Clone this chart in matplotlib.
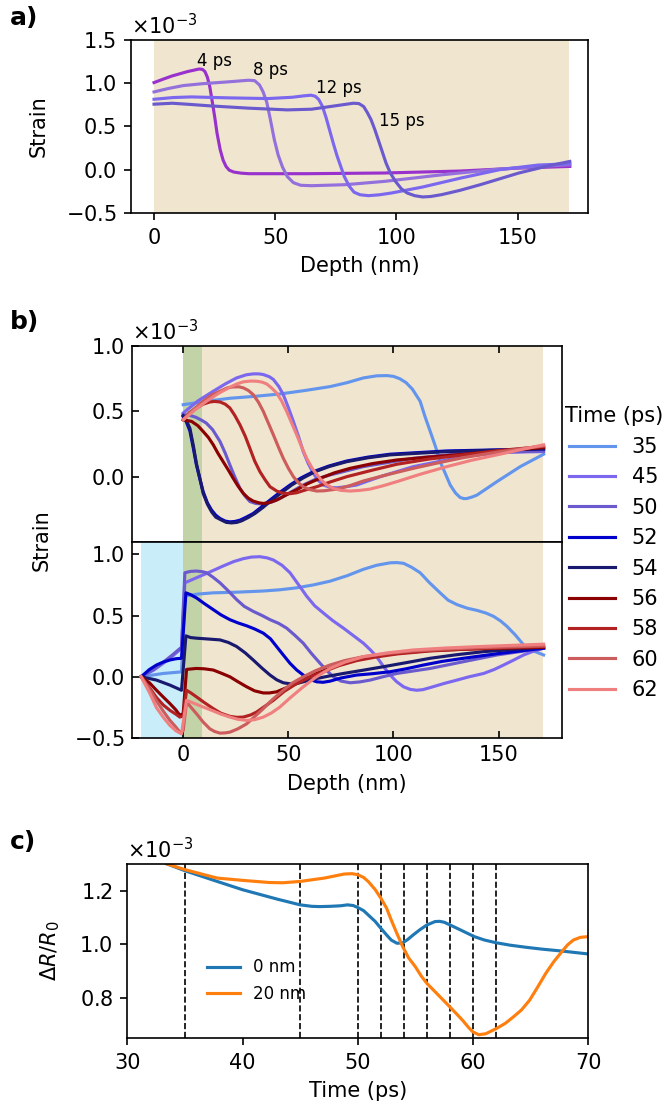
import matplotlib.pyplot as plt
import numpy as np

# ---------------- panel a: strain profiles at early times (units 1e-3)
a_labels = ['4 ps', '8 ps', '12 ps', '15 ps']
a_colors = ['#9932CC', '#9370DB', '#7B68EE', '#6A5ACD']
a_x = [
    [0, 4, 7.5, 13.8, 18.6, 20, 21, 22, 23, 24, 25, 26, 27.3, 28.5, 29.7, 31, 32.9, 36, 39.2, 63, 94.9,
     126.6, 150.5, 171.5],
    [0, 6, 12, 20, 30, 39, 41.5, 43.5, 45, 46.5, 48, 49.6, 51.2, 53, 55, 57.5, 60.5, 65, 79, 95, 119,
     142.5, 171.5],
    [0, 8, 15.4, 31, 47, 57, 62, 64.7, 66.5, 68, 69.5, 71, 72.5, 74, 75.5, 77, 78.5, 80.5, 82.5, 85,
     88.5, 93, 98, 110.8, 126.6, 142.5, 158.4, 171.5],
    [0, 7.5, 15, 23.4, 39, 55, 65, 75, 82.2, 84.5, 86.5, 88, 89.5, 91, 92.5, 94, 95.7, 97.5, 99.6, 102,
     104.4, 107.5, 110.8, 114, 118.7, 126, 134.6, 150.5, 161.6, 171.5],
]
a_y = [
    [1.008, 1.05, 1.085, 1.135, 1.165, 1.16, 1.135, 1.07, 0.96, 0.79, 0.615, 0.42, 0.23, 0.11, 0.038,
     -0.005, -0.027, -0.04, -0.046, -0.046, -0.038, -0.015, 0.019, 0.038],
    [0.90, 0.94, 0.973, 0.995, 1.015, 1.035, 1.03, 0.98, 0.90, 0.78, 0.58, 0.35, 0.17, 0.03, -0.08,
     -0.15, -0.18, -0.185, -0.173, -0.135, -0.058, 0.008, 0.058],
    [0.815, 0.835, 0.842, 0.831, 0.823, 0.838, 0.855, 0.862, 0.85, 0.81, 0.73, 0.60, 0.45, 0.30, 0.16,
     0.04, -0.08, -0.19, -0.26, -0.29, -0.30, -0.29, -0.269, -0.20, -0.096, 0.0, 0.054, 0.069],
    [0.758, 0.769, 0.755, 0.738, 0.712, 0.692, 0.70, 0.74, 0.769, 0.765, 0.73, 0.66, 0.58, 0.47, 0.346,
     0.22, 0.077, -0.04, -0.135, -0.22, -0.269, -0.30, -0.315, -0.31, -0.288, -0.24, -0.173, -0.038,
     0.038, 0.096],
]
a_text_pos = [(25, 1.26), (48, 1.15), (76.3, 0.95), (102.3, 0.56)]

# ---------------- panel b: strain profiles, time in ps
b_times = ['35', '45', '50', '52', '54', '56', '58', '60', '62']
b_colors = ['#6495ED', '#7B68EE', '#6A5ACD', '#0000CD', '#191970',
            '#8B0000', '#B22222', '#CD5C5C', '#F08080']

# upper subplot
bt_x = [
    [0, 10, 22, 34, 46, 58, 70, 78, 85.7, 92, 96.8, 100, 103, 106, 109, 111, 112.7, 115, 117.5, 120,
     122.2, 124.5, 127, 129.5, 131.7, 133.5, 135, 137.5, 139.7, 149.2, 160.3, 171.4],
    [0, 7, 14.3, 20, 25.4, 30, 33.3, 36, 38.1, 41, 42.9, 45.5, 47.6, 50, 52.4, 55, 57.1, 59.5, 61.9,
     64, 66.7, 70, 73, 77, 82.5, 93.7, 109.5, 133.3, 152.4, 171.4],
    [0, 3, 6, 9, 11, 14, 17.5, 20, 22.2, 24.5, 27, 29.5, 31.7, 34.5, 38.1, 42, 46, 51, 57.1, 63, 69.8,
     85.7, 109.5, 133.3, 171.4],
    [0, 1.5, 3.2, 4.8, 6.3, 8, 9.5, 11.5, 13.5, 15.5, 17.5, 20, 22.2, 24.5, 27, 30, 33.3, 37, 41.3, 46,
     50.8, 56, 61.9, 69, 77.8, 88, 98.4, 125.4, 171.4],
    [0, 1.5, 3.2, 4.8, 6.3, 8, 9.5, 11.5, 13.5, 15.5, 18.3, 20.5, 23, 25.5, 27.8, 31, 34.1, 38, 42.1,
     47, 51.6, 57, 62.7, 69.5, 77.8, 88, 98.4, 125.4, 171.4],
    [0, 4, 7, 9.5, 12, 14.3, 16.5, 19, 21.5, 23.8, 26, 28.6, 31, 33.3, 36, 38.1, 41, 44.4, 49, 54, 59,
     65, 72, 79.4, 90, 101.6, 117, 133.3, 150, 171.4],
    [0, 3, 6.3, 9.5, 12.7, 15, 17.5, 20, 22.2, 24.5, 27, 29.5, 31.7, 34, 36.5, 39, 41.3, 44.5, 47.6, 51,
     54, 58.5, 63.5, 70, 77.8, 90, 101.6, 117, 133.3, 150, 171.4],
    [0, 5, 9.5, 13.5, 17.5, 21, 23.8, 26.5, 28.6, 31, 33.3, 35.8, 38.1, 40.5, 42.9, 45.2, 47.6, 50,
     52.4, 54.7, 57.1, 60, 63.5, 67, 73, 79, 85.7, 97, 109.5, 121, 133.3, 150, 171.4],
    [0, 5.5, 11.1, 16.5, 22.2, 25.5, 28.6, 32, 34.9, 37.5, 39.7, 42, 44.4, 46.8, 49.2, 51.6, 54, 56.3,
     58.7, 61.5, 65, 68, 71.4, 75, 79.4, 84, 88.9, 95, 101.6, 113, 125.4, 137, 149.2, 160, 171.4],
]
bt_y = [
    [0.551, 0.575, 0.60, 0.615, 0.633, 0.66, 0.69, 0.72, 0.756, 0.772, 0.774, 0.768, 0.75, 0.72, 0.67,
     0.62, 0.577, 0.46, 0.346, 0.23, 0.115, 0.03, -0.064, -0.125, -0.159, -0.168, -0.167, -0.155,
     -0.141, -0.038, 0.077, 0.172],
    [0.487, 0.58, 0.654, 0.71, 0.756, 0.78, 0.787, 0.787, 0.782, 0.765, 0.744, 0.69, 0.628, 0.53,
     0.423, 0.30, 0.192, 0.10, 0.026, -0.025, -0.064, -0.082, -0.085, -0.078, -0.064, 0.0, 0.077,
     0.154, 0.187, 0.192],
    [0.474, 0.47, 0.455, 0.43, 0.41, 0.36, 0.27, 0.18, 0.09, 0.0, -0.09, -0.15, -0.19, -0.205, -0.21,
     -0.195, -0.167, -0.12, -0.064, -0.02, 0.013, 0.077, 0.141, 0.179, 0.197],
    [0.46, 0.42, 0.35, 0.22, 0.09, -0.02, -0.115, -0.20, -0.256, -0.295, -0.32, -0.34, -0.346, -0.343,
     -0.333, -0.31, -0.282, -0.235, -0.179, -0.12, -0.064, -0.01, 0.038, 0.08, 0.12, 0.15, 0.172,
     0.197, 0.213],
    [0.468, 0.43, 0.37, 0.24, 0.10, -0.02, -0.128, -0.21, -0.269, -0.31, -0.333, -0.35, -0.354, -0.35,
     -0.338, -0.312, -0.282, -0.235, -0.179, -0.12, -0.064, -0.01, 0.038, 0.078, 0.115, 0.145, 0.167,
     0.192, 0.213],
    [0.436, 0.423, 0.39, 0.346, 0.30, 0.244, 0.18, 0.115, 0.05, -0.013, -0.07, -0.128, -0.165, -0.187,
     -0.20, -0.205, -0.198, -0.179, -0.14, -0.10, -0.055, -0.013, 0.03, 0.064, 0.10, 0.128, 0.15,
     0.172, 0.195, 0.223],
    [0.436, 0.49, 0.526, 0.555, 0.572, 0.576, 0.572, 0.555, 0.526, 0.47, 0.397, 0.31, 0.218, 0.12,
     0.038, -0.025, -0.077, -0.11, -0.128, -0.13, -0.123, -0.10, -0.077, -0.04, 0.0, 0.05, 0.095, 0.135,
     0.167, 0.20, 0.231],
    [0.436, 0.515, 0.577, 0.625, 0.654, 0.68, 0.687, 0.688, 0.68, 0.66, 0.628, 0.57, 0.50, 0.41, 0.32,
     0.23, 0.141, 0.065, 0.0, -0.045, -0.077, -0.098, -0.11, -0.108, -0.095, -0.07, -0.033, 0.015,
     0.064, 0.105, 0.146, 0.19, 0.236],
    [0.436, 0.51, 0.577, 0.635, 0.685, 0.71, 0.726, 0.732, 0.731, 0.724, 0.71, 0.68, 0.641, 0.58, 0.50,
     0.41, 0.32, 0.23, 0.141, 0.06, -0.013, -0.06, -0.09, -0.105, -0.11, -0.105, -0.095, -0.07, -0.038,
     0.02, 0.077, 0.125, 0.167, 0.205, 0.244],
]

# lower subplot
bb_x = [
    [-20, -9.5, -0.8, 0.8, 7, 14.3, 25, 38.1, 46, 54, 62, 69.8, 78, 85.7, 92, 98.4, 101.5, 104.8, 108.5,
     112.7, 117, 122.2, 126, 130.2, 135, 139.7, 144, 147.6, 151, 154, 158, 161.9, 166, 171.4],
    [-20, -14, -9.5, -5, -0.8, 0.8, 6.3, 12, 19, 24, 28.6, 32.5, 36.5, 40, 42.9, 47, 50.8, 54.5, 58.7,
     62.5, 66.7, 71, 76.2, 81, 85.7, 89, 92, 95, 98.4, 101.5, 104.8, 108, 111.1, 114, 117.5, 124,
     130.2, 136, 142.9, 148, 152.4, 157, 161.9, 166, 171.4],
    [-20, -14, -9.5, -5, -0.8, 0.8, 3.5, 6.3, 9, 11.1, 14, 17.5, 21.5, 25.4, 29, 33.3, 37.5, 41.3, 45.5,
     49.2, 53, 57.1, 61, 65.1, 68.3, 71.4, 75, 79.4, 84, 88.9, 95, 101.6, 117.5, 133.3, 149.2, 171.4],
    [-20, -16, -12.7, -9.5, -6.3, -3.5, -0.8, 1.3, 3.5, 6.3, 10, 14.3, 18, 22.2, 26, 30.2, 34, 38.1,
     41.5, 44.4, 47.5, 50.8, 54, 57.1, 60, 63.5, 66.5, 69.8, 75, 82.5, 90, 98.4, 106, 114.3, 123, 133.3,
     150, 171.4],
    [-20, -12.7, -6.3, -0.8, 1.3, 3.5, 6.3, 12, 17.5, 21.5, 25.4, 29.5, 33.3, 37.5, 41.3, 44.5, 47.6,
     51, 54, 58.5, 63.5, 70, 76.2, 85, 95.2, 106, 117.5, 130, 142.9, 171.4],
    [-20, -16, -12.7, -9.5, -6.3, -3.5, -1.6, 0, 1.6, 6.3, 10, 14.3, 18, 22.2, 26, 30.2, 34, 38.1, 41,
     44.4, 49, 54, 58.5, 63.5, 70, 76.2, 85, 95.2, 106, 117.5, 140, 171.4],
    [-20, -16, -12.7, -9.5, -6.3, -3.5, -1.6, 0, 1.6, 3.5, 6.3, 10, 14.3, 18, 22.2, 25.5, 28.6, 32,
     34.9, 38.5, 42.9, 48, 54, 60, 66.7, 74, 82.5, 92, 101.6, 117, 133.3, 171.4],
    [-20, -16, -12.7, -9.5, -6.3, -3.5, -1.6, 0, 1.6, 3.5, 6.3, 9.5, 12.7, 15, 17.5, 20, 22.2, 26,
     30.2, 34, 38.1, 42.5, 47.6, 52, 57.1, 63, 69.8, 77, 85.7, 97, 109.5, 125, 141.3, 171.4],
    [-20, -16, -12.7, -9.5, -6.3, -3.5, -0.8, 1.6, 3.5, 6.3, 10, 14.3, 18, 22.2, 26, 30.2, 34, 38.1,
     42, 46, 51, 57.1, 63, 69.8, 77, 85.7, 97, 109.5, 125, 141.3, 171.4],
]
bb_y = [
    [0, 0.027, 0.04, 0.66, 0.675, 0.685, 0.69, 0.70, 0.71, 0.726, 0.75, 0.78, 0.825, 0.877, 0.91, 0.93,
     0.932, 0.926, 0.895, 0.849, 0.77, 0.685, 0.625, 0.589, 0.56, 0.542, 0.52, 0.493, 0.455, 0.411,
     0.34, 0.26, 0.215, 0.178],
    [0, 0.055, 0.11, 0.17, 0.233, 0.767, 0.808, 0.85, 0.904, 0.94, 0.964, 0.977, 0.98, 0.97, 0.953,
     0.91, 0.849, 0.76, 0.658, 0.58, 0.52, 0.46, 0.397, 0.335, 0.274, 0.22, 0.164, 0.09, 0.014, -0.04,
     -0.082, -0.103, -0.11, -0.105, -0.088, -0.055, -0.027, 0.0, 0.027, 0.06, 0.096, 0.135, 0.178,
     0.205, 0.233],
    [0, 0.06, 0.118, 0.18, 0.241, 0.849, 0.86, 0.863, 0.858, 0.849, 0.815, 0.767, 0.70, 0.63, 0.575,
     0.534, 0.50, 0.466, 0.435, 0.397, 0.34, 0.274, 0.19, 0.11, 0.05, 0.0, -0.035, -0.049, -0.042,
     -0.027, 0.0, 0.027, 0.068, 0.123, 0.178, 0.233],
    [0, 0.06, 0.096, 0.12, 0.137, 0.147, 0.151, 0.685, 0.67, 0.644, 0.598, 0.548, 0.505, 0.466, 0.44,
     0.416, 0.39, 0.356, 0.31, 0.247, 0.18, 0.11, 0.055, 0.014, -0.02, -0.041, -0.045, -0.036, -0.01,
     0.014, 0.025, 0.041, 0.065, 0.096, 0.125, 0.151, 0.19, 0.233],
    [0, -0.027, -0.068, -0.11, 0.334, 0.32, 0.315, 0.308, 0.301, 0.28, 0.247, 0.195, 0.137, 0.07,
     0.014, -0.025, -0.049, -0.058, -0.055, -0.035, -0.014, 0.008, 0.027, 0.052, 0.082, 0.115, 0.151,
     0.18, 0.205, 0.241],
    [0, -0.05, -0.11, -0.165, -0.219, -0.27, -0.315, -0.30, 0.06, 0.068, 0.065, 0.055, 0.03, 0.0,
     -0.04, -0.082, -0.115, -0.132, -0.132, -0.123, -0.09, -0.055, -0.015, 0.027, 0.07, 0.11, 0.148,
     0.178, 0.198, 0.214, 0.228, 0.241],
    [0, -0.09, -0.17, -0.23, -0.274, -0.305, -0.329, -0.32, -0.11, -0.13, -0.164, -0.21, -0.26, -0.298,
     -0.323, -0.331, -0.329, -0.312, -0.288, -0.245, -0.192, -0.12, -0.055, -0.005, 0.041, 0.09, 0.132,
     0.162, 0.186, 0.21, 0.225, 0.247],
    [0, -0.10, -0.197, -0.28, -0.356, -0.41, -0.452, -0.44, -0.205, -0.245, -0.301, -0.37, -0.425,
     -0.447, -0.46, -0.458, -0.452, -0.425, -0.384, -0.325, -0.26, -0.185, -0.11, -0.05, 0.0, 0.05,
     0.096, 0.133, 0.164, 0.19, 0.211, 0.226, 0.238, 0.252],
    [0, -0.13, -0.252, -0.33, -0.397, -0.44, -0.466, -0.192, -0.205, -0.225, -0.25, -0.279, -0.305,
     -0.329, -0.347, -0.356, -0.35, -0.329, -0.295, -0.247, -0.17, -0.082, -0.005, 0.068, 0.12, 0.164,
     0.195, 0.219, 0.235, 0.247, 0.266],
]

# ---------------- panel c: reflectivity transients (units 1e-3)
c_labels = ['0 nm', '20 nm']
c_t0 = [33.4, 35, 37.8, 40, 43, 45, 46, 46.7, 47.6, 48.5, 49.1, 49.6, 50, 50.5, 50.9, 51.5, 52, 52.5,
        52.9, 53.4, 53.9, 54.3, 54.8, 55.4, 56, 56.7, 57.1, 57.5, 58, 59, 60.1, 61, 62, 63.2, 64.6, 66,
        67.7, 70]
c_r0 = [1.301, 1.275, 1.235, 1.204, 1.169, 1.1475, 1.142, 1.141, 1.142, 1.144, 1.1475, 1.145, 1.1375,
        1.126, 1.11, 1.086, 1.06, 1.035, 1.016, 1.004, 1.006, 1.017, 1.035, 1.055, 1.0725, 1.085, 1.086,
        1.0825, 1.0725, 1.052, 1.029, 1.016, 1.006, 0.997, 0.989, 0.982, 0.975, 0.964]
c_t20 = [33.4, 35, 36.5, 37.8, 40, 42.3, 43.5, 45, 46, 47.1, 48.8, 49.5, 50, 50.5, 50.9, 51.5, 52, 52.5,
         52.9, 53.4, 53.9, 54.4, 55, 55.5, 56, 57, 58, 59.1, 59.6, 60, 60.5, 61.1, 62, 62.8, 63.5, 64.2,
         64.9, 65.6, 66.3, 67, 67.7, 68.2, 68.7, 69.3, 70]
c_r20 = [1.301, 1.279, 1.262, 1.2475, 1.239, 1.231, 1.230, 1.235, 1.241, 1.2475, 1.2625, 1.264, 1.26,
         1.25, 1.235, 1.205, 1.1725, 1.135, 1.091, 1.04, 0.991, 0.95, 0.916, 0.882, 0.854, 0.81, 0.766,
         0.716, 0.69, 0.6725, 0.6625, 0.666, 0.685, 0.705, 0.729, 0.755, 0.791, 0.84, 0.891, 0.935,
         0.9725, 0.998, 1.016, 1.026, 1.029]
c_marks = [35, 45, 50, 52, 54, 56, 58, 60, 62]

tan = '#F0E6D0'
green = '#C3D3A8'
lightblue = '#C9EEFA'

plt.rcParams['font.size'] = 10

fig = plt.figure(figsize=(664 / 150, 1112 / 150), dpi=150)

# ---- a)
ax_a = fig.add_axes([0.1973, 0.8085, 0.6882, 0.1555])
ax_a.axvspan(0, 171, color=tan, lw=0)
for xs, ys, c in zip(a_x, a_y, a_colors):
    ax_a.plot(xs, np.array(ys) * 1e-3, color=c, lw=1.5)
for (tx, ty), lab in zip(a_text_pos, a_labels):
    ax_a.text(tx, ty * 1e-3, lab, fontsize=8, ha='center', va='center')
ax_a.set_xlim(-9.5, 179)
ax_a.set_ylim(-0.5e-3, 1.5e-3)
ax_a.set_yticks(np.array([-0.5, 0, 0.5, 1.0, 1.5]) * 1e-3)
ax_a.ticklabel_format(axis='y', style='sci', scilimits=(0, 0), useMathText=True)
ax_a.set_xlabel('Depth (nm)')
ax_a.set_ylabel('Strain', labelpad=8)

# ---- b)
ax_bt = fig.add_axes([0.1983, 0.5126, 0.6476, 0.1762])
ax_bb = fig.add_axes([0.1983, 0.3363, 0.6476, 0.1763])
for ax in (ax_bt, ax_bb):
    if ax is ax_bb:
        ax.axvspan(-20, 0, color=lightblue, lw=0)
    ax.axvspan(0, 9, color=green, lw=0)
    ax.axvspan(9, 171, color=tan, lw=0)
    ax.set_xlim(-24.5, 180)
    ax.ticklabel_format(axis='y', style='sci', scilimits=(0, 0), useMathText=True)
    ax.tick_params(direction='in')
for xs, ys, c in zip(bt_x, bt_y, b_colors):
    ax_bt.plot(xs, np.array(ys) * 1e-3, color=c, lw=1.5)
lines = []
for xs, ys, c, t in zip(bb_x, bb_y, b_colors, b_times):
    ln, = ax_bb.plot(xs, np.array(ys) * 1e-3, color=c, lw=1.5, label=t)
    lines.append(ln)
ax_bt.set_ylim(-0.5e-3, 1.0e-3)
ax_bt.set_yticks(np.array([0, 0.5, 1.0]) * 1e-3)
ax_bt.set_xticks([0, 50, 100, 150])
ax_bt.tick_params(axis='x', top=True, bottom=False, labelbottom=False)
ax_bb.set_ylim(-0.5e-3, 1.1e-3)
ax_bb.set_yticks(np.array([-0.5, 0, 0.5, 1.0]) * 1e-3)
ax_bb.set_xticks([0, 50, 100, 150])
ax_bb.yaxis.get_offset_text().set_visible(False)
ax_bb.set_xlabel('Depth (nm)')
fig.text(0.062, 0.514, 'Strain', rotation=90, ha='center', va='center')
fig.legend(handles=lines, title='Time (ps)', frameon=False, loc='upper left',
           bbox_to_anchor=(0.838, 0.642), borderaxespad=0, handlelength=2.2)

# ---- c)
ax_c = fig.add_axes([0.1917, 0.0665, 0.6943, 0.1565])
for t in c_marks:
    ax_c.axvline(t, color='k', ls='--', lw=0.8)
ax_c.plot(c_t0, np.array(c_r0) * 1e-3, color='#1f77b4', lw=1.5, label=c_labels[0])
ax_c.plot(c_t20, np.array(c_r20) * 1e-3, color='#ff7f0e', lw=1.5, label=c_labels[1])
ax_c.set_xlim(30, 70)
ax_c.set_ylim(0.65e-3, 1.30e-3)
ax_c.set_yticks(np.array([0.8, 1.0, 1.2]) * 1e-3)
ax_c.ticklabel_format(axis='y', style='sci', scilimits=(0, 0), useMathText=True)
ax_c.set_xlabel('Time (ps)')
ax_c.set_ylabel(r'$\Delta R/R_0$', labelpad=8)
ax_c.legend(frameon=False, fontsize=8, loc='center left', bbox_to_anchor=(0.14, 0.33))

for lab, y in zip(['a)', 'b)', 'c)'], [18, 322, 842]):
    fig.text(0.015, 1 - y / 1112, lab, fontsize=12, fontweight='bold', va='center')

fig.savefig('out.png', dpi=150)
